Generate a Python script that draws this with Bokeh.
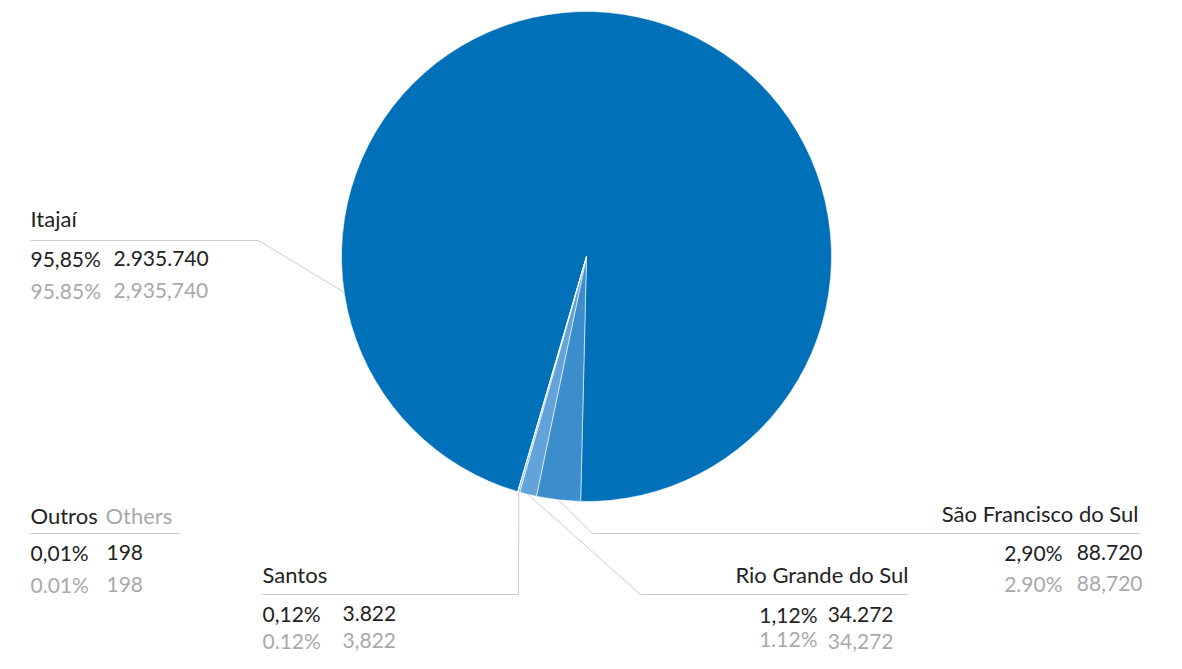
import math
from bokeh.plotting import figure
from bokeh.models import Range1d
from bokeh.core.properties import value
from bokeh.embed import file_html
from bokeh.resources import INLINE

# ---------------- data ----------------
ports_pt = ["Itajaí", "São Francisco do Sul", "Rio Grande do Sul", "Santos", "Outros"]
ports_en = ["", "", "", "", "Others"]
teus = [2935740, 88720, 34272, 3822, 198]
colors = ["#0071b8", "#3c8dcc", "#62a3d9", "#93c0e8", "#c2dcf2"]

# ---------------- layout ----------------
W, H = 1166, 653
def X(px): return px
def Y(py): return H - py

CX, CY, R = X(586), Y(256), 245
START = 196.3  # degrees, clockwise from 12 o'clock

FONT = value("Lato")
FS_T = "22px"
FS = "21px"
DARK = "#222222"
GRAY = "#a9a9a9"
LINE = "#cccccc"

# label layout per slice (picture pixel coordinates)
layout = [
    dict(anchor=188.4, elbow=(258, 240), end=30, title=(30, 218, "left"),
         r1=258, r2=290, pct=(30, "left"), num=(113, "left"), r2num=290),
    dict(anchor=None, elbow=(592, 533), end=1140, title=(1138, 513, "right"),
         r1=552, r2=583, pct=(1062, "right"), num=(1142, "right"), r2num=583),
    dict(anchor=None, elbow=(640, 594), end=908, title=(908, 574, "right"),
         r1=614, r2=638, pct=(817, "right"), num=(893, "right"), r2num=641),
    dict(anchor=None, elbow=(518, 594), end=262, title=(262, 574, "left"),
         r1=613, r2=640, pct=(262, "left"), num=(342, "left"), r2num=640),
    dict(anchor="none", elbow=(180, 533), end=30, title=(30, 515, "left"),
         r1=552, r2=584, pct=(30, "left"), num=(106, "left"), r2num=584),
]
EN_OFFSET = 75

total = sum(teus)
fracs = [v / total for v in teus]
starts, ends, mids = [], [], []
cum = 0.0
for f in fracs:
    a0 = math.radians(90 - START - 360 * cum)
    a1 = math.radians(90 - START - 360 * (cum + f))
    starts.append(a1)
    ends.append(a0)
    mids.append((a0 + a1) / 2)
    cum += f

p = figure(width=W, height=H, output_backend="svg", toolbar_location=None,
           x_range=Range1d(0, W), y_range=Range1d(0, H), min_border=0)
p.axis.visible = False
p.grid.visible = False
p.outline_line_color = None
p.background_fill_color = "white"
p.border_fill_color = "white"

p.wedge(x=CX, y=CY, radius=R, start_angle=starts, end_angle=ends,
        direction="anticlock", fill_color=colors, line_color="white",
        line_width=0.8, line_alpha=0.7)

def fmt_pct(f, sep):
    return f"{f*100:.2f}".replace(".", sep) + "%"

def fmt_num(v, sep):
    return f"{v:,}".replace(",", sep)

for i, lay in enumerate(layout):
    ex, ey = lay["elbow"]
    if lay["anchor"] != "none":
        ang = math.radians(lay["anchor"]) if lay["anchor"] is not None else mids[i]
        ax = CX + R * math.cos(ang)
        ay = CY + R * math.sin(ang)
        p.line(x=[ax, X(ex), X(lay["end"])], y=[ay, Y(ey), Y(ey)],
               line_color=LINE, line_width=1)
    else:
        p.line(x=[X(lay["end"]), X(ex)], y=[Y(ey), Y(ey)], line_color=LINE, line_width=1)

    tx, ty, talign = lay["title"]
    p.text(x=[X(tx)], y=[Y(ty)], text=[ports_pt[i]], text_font=FONT, text_font_size=FS_T,
           text_color=DARK, text_align=talign, text_baseline="middle")
    if ports_en[i]:
        p.text(x=[X(tx + EN_OFFSET)], y=[Y(ty)], text=[ports_en[i]], text_font=FONT,
               text_font_size=FS_T, text_color=GRAY, text_align="left", text_baseline="middle")

    px_, pal = lay["pct"]
    nx_, nal = lay["num"]
    p.text(x=[X(px_)], y=[Y(lay["r1"])], text=[fmt_pct(fracs[i], ",")], text_font=FONT,
           text_font_size=FS, text_color=DARK, text_align=pal, text_baseline="middle")
    p.text(x=[X(nx_)], y=[Y(lay["r1"])], text=[fmt_num(teus[i], ".")], text_font=FONT,
           text_font_size=FS, text_color=DARK, text_align=nal, text_baseline="middle")
    p.text(x=[X(px_)], y=[Y(lay["r2"])], text=[fmt_pct(fracs[i], ".")], text_font=FONT,
           text_font_size=FS, text_color=GRAY, text_align=pal, text_baseline="middle")
    p.text(x=[X(nx_)], y=[Y(lay["r2num"])], text=[fmt_num(teus[i], ",")], text_font=FONT,
           text_font_size=FS, text_color=GRAY, text_align=nal, text_baseline="middle")

open("out.html", "w").write(file_html(p, INLINE))
